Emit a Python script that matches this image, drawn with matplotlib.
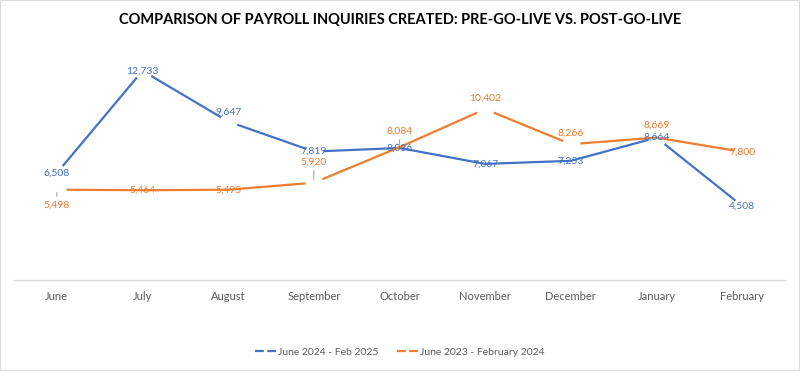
import matplotlib
matplotlib.use("Agg")
import matplotlib.pyplot as plt
from matplotlib.patches import Rectangle
from matplotlib.lines import Line2D

plt.rcParams['font.family'] = ['Lato', 'DejaVu Sans']

months = ["June", "July", "August", "September", "October",
          "November", "December", "January", "February"]
post_golive = [6508, 12733, 9647, 7819, 8036, 7067, 7253, 8664, 4508]
pre_golive = [5498, 5464, 5495, 5920, 8084, 10402, 8266, 8669, 7800]
post_name = "June 2024 - Feb 2025"
pre_name = "June 2023 - February 2024"

blue = "#4472C4"
orange = "#ED7D31"
grey_txt = "#595959"

# label offsets (points) and where the line breaks around a label
post_offsets = [0, 0, 6.5, 0, 0, 0, 0, 0, 0]
pre_offsets = [-11, 0, 0, 15, 11.5, 8, 8, 9, 0]
post_breaks = [0, 1, 2, 3, 7, 8]
pre_breaks = [0, 3, 5, 6, 8]
pre_leaders = [0, 3, 4]

fig = plt.figure(figsize=(8, 3.71), dpi=100)
ax = fig.add_axes([14 / 800, 91 / 371, 771 / 800, 230 / 371])

x = list(range(len(months)))

ax.plot(x, post_golive, color=blue, lw=1.6, zorder=2)
ax.plot([x[i] for i in post_breaks], [post_golive[i] for i in post_breaks],
        ls="none", marker="o", ms=13, mfc="white", mec="none", zorder=2.1)
ax.plot(x, pre_golive, color=orange, lw=1.6, zorder=2.2)
ax.plot([x[i] for i in pre_breaks], [pre_golive[i] for i in pre_breaks],
        ls="none", marker="o", ms=13, mfc="white", mec="none", zorder=2.3)

for i, v in enumerate(post_golive):
    ax.annotate(f"{v:,}", (i, v), xytext=(0, post_offsets[i]),
                textcoords="offset points", ha="center", va="center",
                fontsize=7.5, color=blue, zorder=5)

for i, v in enumerate(pre_golive):
    arrow = None
    if i in pre_leaders:
        arrow = dict(arrowstyle="-", color="#A6A6A6", lw=0.8,
                     shrinkA=1, shrinkB=2)
    ax.annotate(f"{v:,}", (i, v), xytext=(0, pre_offsets[i]),
                textcoords="offset points", ha="center", va="center",
                fontsize=7.5, color=orange, zorder=5, arrowprops=arrow)

ax.set_xlim(-0.5, len(months) - 0.5)
ax.set_ylim(0, 14000)
ax.set_xticks(x)
ax.set_xticklabels(months, fontsize=8, color=grey_txt)
ax.tick_params(axis="x", length=0, pad=8)
ax.set_yticks([])
for s in ["top", "left", "right"]:
    ax.spines[s].set_visible(False)
ax.spines["bottom"].set_color("#D9D9D9")
ax.spines["bottom"].set_linewidth(1)

fig.text(0.5, 1 - 20 / 371,
         "COMPARISON OF PAYROLL INQUIRIES CREATED: PRE-GO-LIVE VS. POST-GO-LIVE",
         ha="center", va="center", fontsize=10.5, fontweight="bold", color="black")

handles = [Line2D([], [], color=blue, lw=1.6, ls=(0, (4, 1.5))),
           Line2D([], [], color=orange, lw=1.6, ls=(0, (4, 1.5)))]
fig.legend(handles, [post_name, pre_name], loc="center",
           bbox_to_anchor=(0.5, 1 - 352 / 371), ncol=2, frameon=False,
           fontsize=7.5, labelcolor=grey_txt, handlelength=2.0,
           handletextpad=0.2, columnspacing=1.8)

fig.patches.append(Rectangle((0, 0), 1, 1, transform=fig.transFigure,
                             fill=False, edgecolor="#D9D9D9", lw=1.5))

fig.savefig("out.png", dpi=100)
